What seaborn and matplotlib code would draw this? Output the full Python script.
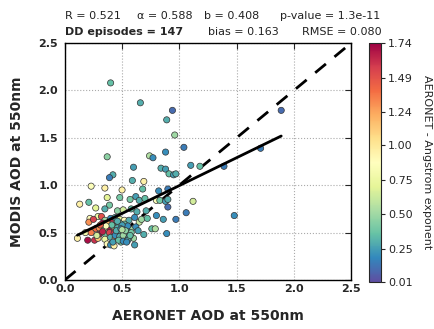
import numpy as np
import pandas as pd
import matplotlib
matplotlib.use("Agg")
import matplotlib.pyplot as plt
import seaborn as sns

# dataset
aeronet = [0.40, 0.66, 0.94, 0.89, 1.89, 0.96, 1.04, 1.71, 0.37, 0.74,
           0.77, 0.88, 1.10, 1.18, 1.39, 0.60, 0.84, 0.88, 0.42, 0.39,
           0.91, 0.95, 0.97, 0.59, 0.69, 0.23, 0.35, 0.50, 0.68, 0.82,
           0.90, 0.37, 0.48, 0.62, 0.57, 0.65, 0.70, 0.80, 0.83, 0.88,
           0.90, 1.12, 0.13, 0.21, 0.39, 0.27, 0.35, 0.46, 0.51, 0.58,
           0.63, 0.71, 0.90, 1.06, 1.48, 0.22, 0.29, 0.32, 0.21, 0.25,
           0.35, 0.40, 0.44, 0.48, 0.52, 0.56, 0.61, 0.65, 0.67, 0.72,
           0.80, 0.86, 0.97, 0.33, 0.40, 0.27, 0.30, 0.35, 0.39, 0.43,
           0.47, 0.50, 0.53, 0.58, 0.62, 0.76, 0.79, 0.18, 0.23, 0.30,
           0.35, 0.39, 0.43, 0.47, 0.49, 0.52, 0.69, 0.89, 0.11, 0.20,
           0.26, 0.29, 0.35, 0.40, 0.44, 0.47, 0.50, 0.54, 0.60, 0.37,
           0.40, 0.43, 0.49, 0.61, 0.54, 0.45, 0.48, 0.52, 0.55, 0.42,
           0.46, 0.50, 0.53, 0.57, 0.44, 0.48, 0.51, 0.56, 0.38, 0.41,
           0.45, 0.49, 0.53, 0.36, 0.31, 0.28, 0.42, 0.47, 0.51, 0.55,
           0.58, 0.64, 0.33, 0.46, 0.50, 0.54, 0.57]
modis = [2.08, 1.87, 1.79, 1.69, 1.79, 1.53, 1.40, 1.39, 1.30, 1.31,
         1.29, 1.35, 1.21, 1.20, 1.20, 1.19, 1.18, 1.17, 1.11, 1.08,
         1.12, 1.11, 1.12, 1.05, 1.04, 0.99, 0.97, 0.95, 0.96, 0.94,
         0.96, 0.87, 0.87, 0.88, 0.85, 0.84, 0.86, 0.84, 0.84, 0.83,
         0.85, 0.83, 0.80, 0.82, 0.79, 0.76, 0.75, 0.73, 0.74, 0.75,
         0.72, 0.73, 0.77, 0.71, 0.68, 0.65, 0.67, 0.67, 0.61, 0.64,
         0.63, 0.65, 0.66, 0.64, 0.63, 0.63, 0.66, 0.61, 0.64, 0.65,
         0.68, 0.64, 0.64, 0.60, 0.61, 0.54, 0.55, 0.54, 0.55, 0.52,
         0.53, 0.55, 0.56, 0.53, 0.56, 0.54, 0.54, 0.50, 0.50, 0.48,
         0.49, 0.50, 0.49, 0.49, 0.51, 0.51, 0.48, 0.49, 0.44, 0.42,
         0.42, 0.44, 0.43, 0.45, 0.44, 0.44, 0.45, 0.48, 0.44, 0.38,
         0.37, 0.36, 0.40, 0.37, 0.53, 0.58, 0.60, 0.59, 0.57, 0.57,
         0.55, 0.58, 0.50, 0.47, 0.47, 0.46, 0.47, 0.45, 0.59, 0.58,
         0.52, 0.54, 0.52, 0.57, 0.58, 0.47, 0.40, 0.42, 0.41, 0.42,
         0.50, 0.52, 0.51, 0.62, 0.53, 0.40, 0.47]
angstrom = [0.35, 0.30, 0.10, 0.30, 0.10, 0.50, 0.15, 0.15, 0.45, 0.55,
            0.20, 0.20, 0.25, 0.35, 0.15, 0.25, 0.30, 0.25, 0.30, 0.15,
            0.35, 0.25, 0.30, 0.30, 0.95, 0.85, 0.95, 0.95, 0.35, 0.20,
            0.15, 0.70, 0.40, 0.25, 0.40, 0.30, 0.35, 0.85, 0.40, 0.25,
            0.30, 0.65, 0.95, 0.35, 0.40, 0.70, 0.30, 0.45, 0.65, 0.35,
            0.30, 0.30, 0.10, 0.15, 0.20, 0.90, 0.75, 1.50, 1.30, 1.55,
            0.50, 0.20, 0.30, 0.70, 0.90, 0.30, 0.20, 0.60, 0.50, 0.35,
            0.20, 0.25, 0.15, 1.70, 1.60, 1.40, 1.30, 0.90, 1.70, 1.55,
            0.40, 0.20, 0.30, 0.50, 0.20, 0.35, 0.55, 0.80, 1.35, 1.70,
            0.40, 1.55, 1.60, 0.20, 0.30, 0.25, 0.30, 0.20, 0.95, 1.70,
            1.60, 1.15, 0.75, 0.30, 1.25, 0.25, 0.20, 0.30, 0.50, 0.90,
            0.20, 0.95, 0.40, 0.25, 0.30, 0.25, 0.45, 0.35, 0.20, 0.60,
            0.30, 0.25, 0.35, 0.40, 0.20, 0.30, 0.50, 0.25, 1.20, 0.35,
            0.30, 0.20, 0.45, 0.85, 1.45, 0.65, 0.25, 0.35, 0.20, 0.30,
            0.40, 0.25, 1.65, 0.30, 0.55, 0.20, 0.35]

slope, intercept = 0.588, 0.408
stats_row1 = ["R = 0.521", "α = 0.588", "b = 0.408", "p-value = 1.3e-11"]
stats_row2 = ["bias = 0.163", "RMSE = 0.080"]
n_episodes = 147
cbar_ticks = [0.01, 0.25, 0.50, 0.75, 1.00, 1.24, 1.49, 1.74]
vmin, vmax = 0.01, 1.74

df = pd.DataFrame({"aeronet": aeronet, "modis": modis, "angstrom": angstrom})

sns.set_style("white")
fig = plt.figure(figsize=(4.35, 3.29), dpi=100, facecolor="white")
ax = fig.add_axes([0.149, 0.149, 0.658, 0.72])
cax = fig.add_axes([0.848, 0.143, 0.028, 0.726])

ax.grid(True, linestyle=":", color="#aaaaaa", linewidth=0.8)
ax.set_axisbelow(True)

# 1:1 line and fitted line
lim = np.array([0, 2.5])
ax.plot(lim, lim, color="black", linestyle=(0, (5, 4)), linewidth=2, zorder=2)
xfit = np.array([df.aeronet.min(), df.aeronet.max()])
ax.plot(xfit, slope * xfit + intercept, color="black", linewidth=2, zorder=4)

norm = plt.Normalize(vmin, vmax)
sns.scatterplot(data=df, x="aeronet", y="modis", hue="angstrom",
                palette="Spectral_r", hue_norm=norm, legend=False,
                s=20, edgecolor="#333333", linewidth=0.5, ax=ax, zorder=3)

ax.set_xlim(0, 2.5)
ax.set_ylim(0, 2.5)
ax.set_xticks(np.arange(0, 2.51, 0.5))
ax.set_yticks(np.arange(0, 2.51, 0.5))
ax.tick_params(direction="in", length=4, width=0.8, top=True, right=True,
               labelsize=8)
ax.tick_params(axis="x", pad=3)
ax.tick_params(axis="y", pad=5)
for lbl in ax.get_xticklabels() + ax.get_yticklabels():
    lbl.set_fontweight("bold")
for sp in ax.spines.values():
    sp.set_color("black")
    sp.set_linewidth(1)

ax.set_xlabel("AERONET AOD at 550nm", fontsize=10, fontweight="bold", labelpad=11)
ax.set_ylabel("MODIS AOD at 550nm", fontsize=10, fontweight="bold", labelpad=10)

# colorbar
sm = plt.cm.ScalarMappable(cmap="Spectral_r", norm=norm)
cb = fig.colorbar(sm, cax=cax, ticks=cbar_ticks)
cb.ax.set_yticklabels([f"{t:.2f}" for t in cbar_ticks], fontsize=8)
cb.ax.tick_params(length=3, width=0.8, pad=2)
cb.outline.set_linewidth(0.8)
cb.set_label("AERONET - Angstrom exponent", fontsize=8, rotation=270, labelpad=14)

# stats text above the axes
for x, s in zip([0.149, 0.315, 0.468, 0.643], stats_row1):
    fig.text(x, 0.952, s, fontsize=8, va="center", ha="left", color="#222222")
fig.text(0.149, 0.902, f"DD episodes = {n_episodes}", fontsize=8,
         fontweight="bold", va="center", ha="left")
for x, s in zip([0.478, 0.694], stats_row2):
    fig.text(x, 0.902, s, fontsize=8, va="center", ha="left", color="#222222")

fig.savefig("out.png", dpi=100, facecolor="white")
